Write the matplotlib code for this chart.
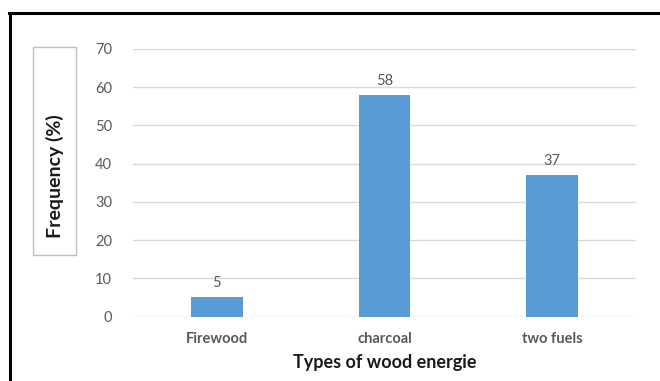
import matplotlib.pyplot as plt
from matplotlib.patches import Rectangle
from matplotlib.lines import Line2D

categories = ["Firewood", "charcoal", "two fuels"]
frequency = [5, 58, 37]
yticks = [0, 10, 20, 30, 40, 50, 60, 70]

BAR_COLOR = "#5B9BD5"
TEXT_GRAY = "#595959"
GRID_GRAY = "#D9D9D9"

plt.rcParams["font.family"] = ["Lato", "DejaVu Sans"]

W, H = 660, 381
fig = plt.figure(figsize=(W / 100, H / 100), dpi=100)
ax = fig.add_axes([133 / W, 1 - 316.5 / H, (636 - 133) / W, (316.5 - 49) / H])

x = range(len(categories))
bars = ax.bar(x, frequency, width=0.31, color=BAR_COLOR, zorder=3)
for b, v in zip(bars, frequency):
    ax.annotate(str(v), (b.get_x() + b.get_width() / 2, v), xytext=(0, 5),
                textcoords="offset points", ha="center", va="bottom",
                fontsize=10.5, color=TEXT_GRAY)

ax.set_xlim(-0.5, 2.5)
ax.set_ylim(0, 70)
ax.set_yticks(yticks)
ax.set_xticks(list(x))
ax.set_xticklabels(categories, fontweight="bold", fontsize=11)
ax.tick_params(axis="both", length=0, labelsize=10.5, labelcolor=TEXT_GRAY)
ax.tick_params(axis="y", pad=15)
ax.tick_params(axis="x", pad=11)
ax.grid(axis="y", color=GRID_GRAY, linewidth=1, zorder=0)
for s in ax.spines.values():
    s.set_visible(False)

ax.set_xlabel("Types of wood energie", fontsize=13, fontweight="bold",
              color="#1a1a1a", labelpad=6)

# boxed y-axis title
fig.add_artist(Rectangle((33 / W, 1 - 255 / H), 43 / W, 208 / H,
                         transform=fig.transFigure, fill=False,
                         edgecolor="#BFBFBF", linewidth=1))
fig.text(54.5 / W, 1 - 176 / H, "Frequency (%)", rotation=90, ha="center",
         va="center", fontsize=14, fontweight="bold", color="#1a1a1a")

# outer frame, only left and top edges
fig.add_artist(Line2D([10 / W, 10 / W], [0, 1 - 13 / H], color="black",
                      linewidth=2.2, transform=fig.transFigure))
fig.add_artist(Line2D([9 / W, 1], [1 - 13 / H, 1 - 13 / H], color="black",
                      linewidth=2.2, transform=fig.transFigure))

fig.savefig("out.png", dpi=100)
